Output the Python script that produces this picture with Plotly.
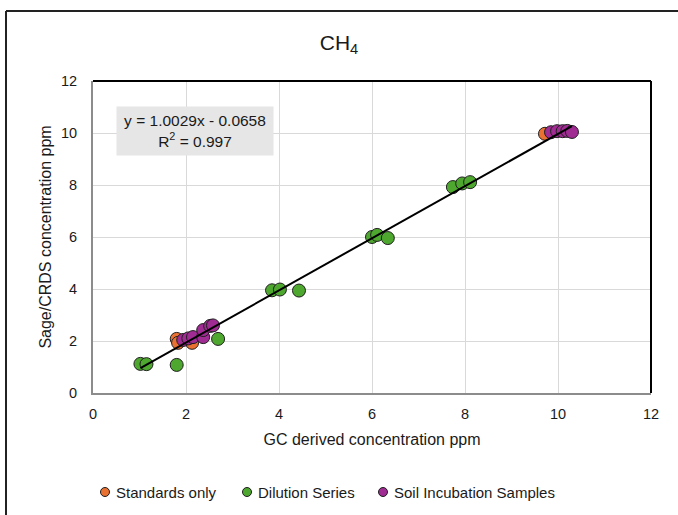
import plotly.graph_objects as go

# GC-derived vs Sage/CRDS CH4 concentrations (ppm)
std_x = [1.80, 1.83, 2.13, 9.72]
std_y = [2.08, 1.93, 1.93, 9.97]

dil_x = [1.02, 1.15, 1.80, 2.69, 3.85, 4.02, 4.43, 6.00, 6.11, 6.34, 7.74, 7.94, 8.11]
dil_y = [1.12, 1.11, 1.08, 2.08, 3.95, 3.98, 3.94, 6.00, 6.08, 5.96, 7.92, 8.06, 8.11]

soil_x = [1.94, 2.05, 2.15, 2.37, 2.37, 2.52, 2.58, 9.85, 9.98, 10.10, 10.20, 10.30]
soil_y = [2.04, 2.10, 2.15, 2.15, 2.42, 2.58, 2.60, 10.03, 10.07, 10.07, 10.08, 10.04]

slope = 1.0029
intercept = -0.0658
r_squared = 0.997

x_ticks = [0, 2, 4, 6, 8, 10, 12]
y_ticks = [0, 2, 4, 6, 8, 10, 12]

ORANGE = "#E97132"
GREEN = "#4EA72E"
PURPLE = "#A02B93"
EDGE = "#1f1f1f"
FONT = "Liberation Sans"
TEXT = "#1a1a1a"

all_x = std_x + dil_x + soil_x
x_lo, x_hi = min(all_x), max(all_x)

fig = go.Figure()

series = [
    ("Standards only", std_x, std_y, ORANGE),
    ("Dilution Series", dil_x, dil_y, GREEN),
    ("Soil Incubation Samples", soil_x, soil_y, PURPLE),
]

for name, xs, ys, col in series:
    fig.add_trace(go.Scatter(
        x=xs, y=ys, mode="markers", name=name, showlegend=False,
        marker=dict(size=13, color=col, line=dict(color=EDGE, width=1)),
    ))

# linear trendline over the data range
fig.add_trace(go.Scatter(
    x=[x_lo, x_hi],
    y=[slope * x_lo + intercept, slope * x_hi + intercept],
    mode="lines", line=dict(color="black", width=2), showlegend=False,
    hoverinfo="skip",
))

fig.add_annotation(
    x=0.183, y=0.84, xref="paper", yref="paper",
    xanchor="center", yanchor="middle",
    text=f"y = {slope:.4f}x - {abs(intercept):.4f}<br>R<sup>2</sup> = {r_squared:.3f}",
    showarrow=False, align="center", bgcolor="#e6e6e6",
    font=dict(family=FONT, size=15.5, color=TEXT),
    width=152, height=44, borderpad=2,
)

# legend row below the chart: marker dot followed by its label
legend_dot_px = [105, 247, 383]
legend_y = (393 - 492) / 312
shapes = []
for (name, _, _, col), px in zip(series, legend_dot_px):
    xc = (px - 93) / 558
    r = 4.5 / 558
    ry = 4.5 / 312
    shapes.append(dict(type="circle", xref="paper", yref="paper",
                       x0=xc - r, x1=xc + r, y0=legend_y - ry, y1=legend_y + ry,
                       fillcolor=col, line=dict(color=EDGE, width=1)))
    fig.add_annotation(x=(px + 9 - 93) / 558, y=legend_y, xref="paper", yref="paper",
                       xanchor="left", yanchor="middle", showarrow=False,
                       text=name, font=dict(family=FONT, size=15, color=TEXT))

shapes += [
    # outer chart frame
    dict(type="line", xref="paper", yref="paper",
         x0=-0.1559, x1=-0.1559, y0=1.2244, y1=-0.45,
         line=dict(color="#222", width=2)),
    dict(type="line", xref="paper", yref="paper",
         x0=-0.1559, x1=1.06, y0=1.2244, y1=1.2244,
         line=dict(color="#222", width=2)),
    # plot area border
    dict(type="line", xref="paper", yref="paper", x0=0, x1=1, y0=1, y1=1,
         line=dict(color="black", width=2)),
    dict(type="line", xref="paper", yref="paper", x0=1, x1=1, y0=0, y1=1,
         line=dict(color="black", width=2)),
]

fig.update_layout(
    width=678, height=515,
    margin=dict(l=93, r=27, t=81, b=122),
    paper_bgcolor="white", plot_bgcolor="white",
    font=dict(family=FONT, color=TEXT),
    title=dict(text="CH<sub>4</sub>", x=0.5, xanchor="center",
               y=0.918, yanchor="middle",
               font=dict(family=FONT, size=21, color=TEXT)),
    xaxis=dict(range=[0, 12], tickvals=x_ticks, showgrid=True,
               gridcolor="#d9d9d9", gridwidth=1, zeroline=False,
               showline=True, linecolor="#8c8c8c", linewidth=2,
               ticks="", tickfont=dict(size=14.5), ticklabelstandoff=7,
               title=dict(text="GC derived concentration ppm",
                          font=dict(size=16), standoff=12)),
    yaxis=dict(range=[0, 12], tickvals=y_ticks, showgrid=True,
               gridcolor="#d9d9d9", gridwidth=1, zeroline=False,
               showline=True, linecolor="#8c8c8c", linewidth=2,
               ticks="", tickfont=dict(size=14.5), ticklabelstandoff=11,
               title=dict(text="Sage/CRDS concentration ppm",
                          font=dict(size=16), standoff=5)),
    shapes=shapes,
    showlegend=False,
)

fig.write_html("out.html")
